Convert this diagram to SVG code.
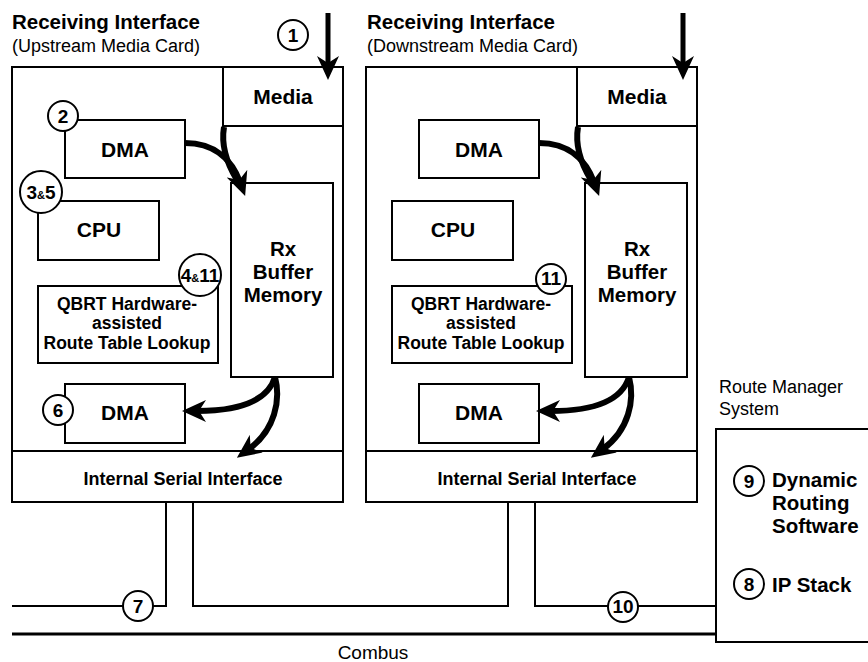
<svg xmlns="http://www.w3.org/2000/svg" width="868" height="662" viewBox="0 0 868 662">
<style>
.box{fill:#fff;stroke:#000;stroke-width:2}
.ln{fill:none;stroke:#000;stroke-width:2}
.cir{fill:#fff;stroke:#000;stroke-width:2}
.t{font-family:"Liberation Sans",Arial,sans-serif;fill:#000}
.b{font-weight:bold}
.m{text-anchor:middle}
.big{font-size:21px}
.num{font-size:19px;font-weight:bold;text-anchor:middle}
.amp{font-size:11px}
.flow{fill:none;stroke:#000;stroke-width:6;marker-end:url(#ah)}
</style>
<defs>
<marker id="ah" markerUnits="userSpaceOnUse" viewBox="0 0 24 22" refX="9" refY="11" markerWidth="24" markerHeight="22" orient="auto">
<path d="M0,0 L24,11 L0,22 L7,11 Z" fill="#000"/>
</marker>
</defs>
<rect width="868" height="662" fill="#fff"/>

<g id="card-upstream">
<text class="t b" x="12" y="29" font-size="20.5">Receiving Interface</text>
<text class="t" x="12" y="52" font-size="18">(Upstream Media Card)</text>
<rect class="box" x="12" y="67" width="331" height="435"/>
<g id="up-media"><rect class="box" x="223" y="67" width="120" height="59"/><text class="t b m big" x="283" y="104">Media</text></g>
<g id="up-dma1"><rect class="box" x="65" y="120" width="120" height="58"/><text class="t b m big" x="125" y="157">DMA</text></g>
<g id="up-cpu"><rect class="box" x="38" y="201" width="121" height="59"/><text class="t b m big" x="99" y="237">CPU</text></g>
<g id="up-qbrt"><rect class="box" x="38" y="286" width="180" height="77"/>
<text class="t b m" font-size="17.5" x="127" y="310">QBRT Hardware-</text>
<text class="t b m" font-size="17.5" x="127" y="329">assisted</text>
<text class="t b m" font-size="17.5" x="127" y="349">Route Table Lookup</text></g>
<g id="up-rx"><rect class="box" x="231" y="183" width="102" height="194"/>
<text class="t b m" font-size="20.5" x="283" y="256">Rx</text>
<text class="t b m" font-size="20.5" x="283" y="279">Buffer</text>
<text class="t b m" font-size="20.5" x="283" y="302">Memory</text></g>
<g id="up-dma2"><rect class="box" x="65" y="384" width="120" height="59"/><text class="t b m big" x="125" y="420">DMA</text></g>
<g id="up-isi"><rect class="box" x="12" y="451" width="331" height="51"/><text class="t b m" font-size="18" x="183" y="485">Internal Serial Interface</text></g>
</g>

<g id="card-downstream">
<text class="t b" x="367" y="29" font-size="20.5">Receiving Interface</text>
<text class="t" x="367" y="52" font-size="18">(Downstream Media Card)</text>
<rect class="box" x="366" y="67" width="331" height="435"/>
<g id="dn-media"><rect class="box" x="577" y="67" width="120" height="59"/><text class="t b m big" x="637" y="104">Media</text></g>
<g id="dn-dma1"><rect class="box" x="419" y="120" width="120" height="58"/><text class="t b m big" x="479" y="157">DMA</text></g>
<g id="dn-cpu"><rect class="box" x="392" y="201" width="121" height="59"/><text class="t b m big" x="453" y="237">CPU</text></g>
<g id="dn-qbrt"><rect class="box" x="392" y="286" width="180" height="77"/>
<text class="t b m" font-size="17.5" x="481" y="310">QBRT Hardware-</text>
<text class="t b m" font-size="17.5" x="481" y="329">assisted</text>
<text class="t b m" font-size="17.5" x="481" y="349">Route Table Lookup</text></g>
<g id="dn-rx"><rect class="box" x="585" y="183" width="102" height="194"/>
<text class="t b m" font-size="20.5" x="637" y="256">Rx</text>
<text class="t b m" font-size="20.5" x="637" y="279">Buffer</text>
<text class="t b m" font-size="20.5" x="637" y="302">Memory</text></g>
<g id="dn-dma2"><rect class="box" x="419" y="384" width="120" height="59"/><text class="t b m big" x="479" y="420">DMA</text></g>
<g id="dn-isi"><rect class="box" x="366" y="451" width="331" height="51"/><text class="t b m" font-size="18" x="537" y="485">Internal Serial Interface</text></g>
</g>

<g id="route-manager">
<text class="t" x="719" y="393" font-size="18">Route Manager</text>
<text class="t" x="719" y="415" font-size="18">System</text>
<rect class="box" x="716" y="429" width="170" height="213"/>
<text class="t b" font-size="20.5" x="772" y="487">Dynamic</text>
<text class="t b" font-size="20.5" x="772" y="510">Routing</text>
<text class="t b" font-size="20.5" x="772" y="533">Software</text>
<text class="t b" font-size="20.5" x="772" y="592">IP Stack</text>
</g>

<g id="connectors">
<path class="ln" d="M12,606 H166 V502"/>
<path class="ln" d="M193,502 V606 H508 V502"/>
<path class="ln" d="M535,502 V606 H716"/>
<path fill="none" stroke="#000" stroke-width="3" d="M12,634 H716"/>
<text class="t m" x="373" y="659" font-size="19">Combus</text>

<path fill="none" stroke="#000" stroke-width="5" marker-end="url(#ah)" d="M328,13 V65"/>
<path fill="none" stroke="#000" stroke-width="5" marker-end="url(#ah)" d="M683,13 V65"/>

<path class="flow" d="M185,143 C215,143 232,160 240,182"/>
<path fill="none" stroke="#000" stroke-width="6" d="M224,127 C221,145 226,162 237,180"/>
<path class="flow" d="M275,377 C268,400 240,411 197,411"/>
<path class="flow" d="M275,377 C281,400 275,430 249,449"/>

<path class="flow" d="M539,143 C569,143 586,160 594,182"/>
<path fill="none" stroke="#000" stroke-width="6" d="M578,127 C575,145 580,162 591,180"/>
<path class="flow" d="M629,377 C622,400 594,411 551,411"/>
<path class="flow" d="M629,377 C635,400 629,430 603,449"/>
</g>

<g id="steps">
<g id="s1"><circle class="cir" cx="293" cy="35" r="15"/><text class="t num" x="293" y="42">1</text></g>
<g id="s2"><circle class="cir" cx="63" cy="116" r="15"/><text class="t num" x="63" y="123">2</text></g>
<g id="s35"><circle class="cir" cx="41" cy="192" r="21"/><text class="t num" x="41" y="199">3<tspan class="amp">&amp;</tspan>5</text></g>
<g id="s411"><circle class="cir" cx="200" cy="275" r="21"/><text class="t num" x="200" y="282" font-size="18">4<tspan class="amp">&amp;</tspan>11</text></g>
<g id="s6"><circle class="cir" cx="58" cy="410" r="15"/><text class="t num" x="58" y="417">6</text></g>
<g id="s11"><circle class="cir" cx="551" cy="279" r="15"/><text class="t num" x="551" y="285" font-size="16">11</text></g>
<g id="s7"><circle class="cir" cx="138" cy="606" r="15"/><text class="t num" x="138" y="613">7</text></g>
<g id="s10"><circle class="cir" cx="623" cy="607" r="15"/><text class="t num" x="623" y="613" font-size="16">10</text></g>
<g id="s9"><circle class="cir" cx="749" cy="481" r="15"/><text class="t num" x="749" y="488">9</text></g>
<g id="s8"><circle class="cir" cx="749" cy="584" r="15"/><text class="t num" x="749" y="591">8</text></g>
</g>
</svg>
